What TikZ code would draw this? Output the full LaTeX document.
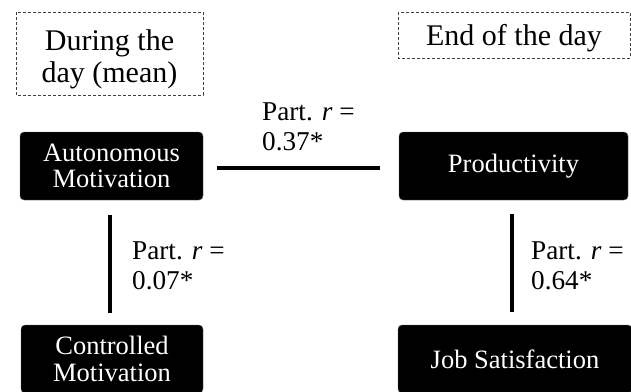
\documentclass[tikz,border=0pt]{standalone}
\usepackage{fontspec}
\setmainfont{Liberation Serif}
\usepackage{tikz}
\usetikzlibrary{positioning}
\tikzstyle{timeframe} = [draw=black!75, line width=0.8pt, dash pattern=on 3pt off 2pt]
\tikzstyle{timetext} = [align=center, inner sep=0pt, font=\fontsize{30}{31.6}\selectfont]
\tikzstyle{varbox} = [fill=black, draw=black!60, rounded corners=4pt, text=white, align=center, inner sep=0pt, font=\fontsize{26.5}{26.7}\selectfont]
\tikzstyle{link} = [line width=4.6pt]
\tikzstyle{partlbl} = [anchor=west, align=left, inner sep=0pt, font=\fontsize{27.2}{29.5}\selectfont]

\begin{document}
\begin{tikzpicture}[x=1pt,y=-1pt]
		\clip (0,0) rectangle (631,391);
		\draw [timeframe] (16,12) rectangle (203,95);
		\draw [timeframe] (398,12) rectangle (630,58);
		\node[timetext] (during) at (109.5,59.5) {During the\\day (mean)};
		\node[timetext] (endday) at (514,38) {End of the day};
		\node[varbox, minimum width=183pt, minimum height=68pt] (auto) at (111.5,166) {Autonomous\\Motivation};
		\node[varbox, minimum width=229pt, minimum height=68pt] (prod) at (513.5,166) {Productivity};
		\node[varbox, minimum width=182pt, minimum height=68pt] (ctrl) at (112,359) {Controlled\\Motivation};
		\node[varbox, minimum width=234pt, minimum height=68pt] (job) at (515,359) {Job Satisfaction};
		\draw [link, shorten <=14pt, shorten >=19pt] ([yshift=-2pt]auto.east) -- ([yshift=-2pt]prod.west);
		\draw [link, shorten <=15pt, shorten >=12pt] ([xshift=-1.5pt]auto.south) -- ([xshift=-2pt]ctrl.north);
		\draw [link, shorten <=14pt, shorten >=13pt] ([xshift=-1.5pt]prod.south) -- ([xshift=-3pt]job.north);
		\node[partlbl] (lblap) at (262,127) {Part. \textit{r} =\\0.37*};
		\node[partlbl] (lblac) at (132,266) {Part. \textit{r} =\\0.07*};
		\node[partlbl] (lblpj) at (531,266) {Part. \textit{r} =\\0.64*};
	\end{tikzpicture}
\end{document}
